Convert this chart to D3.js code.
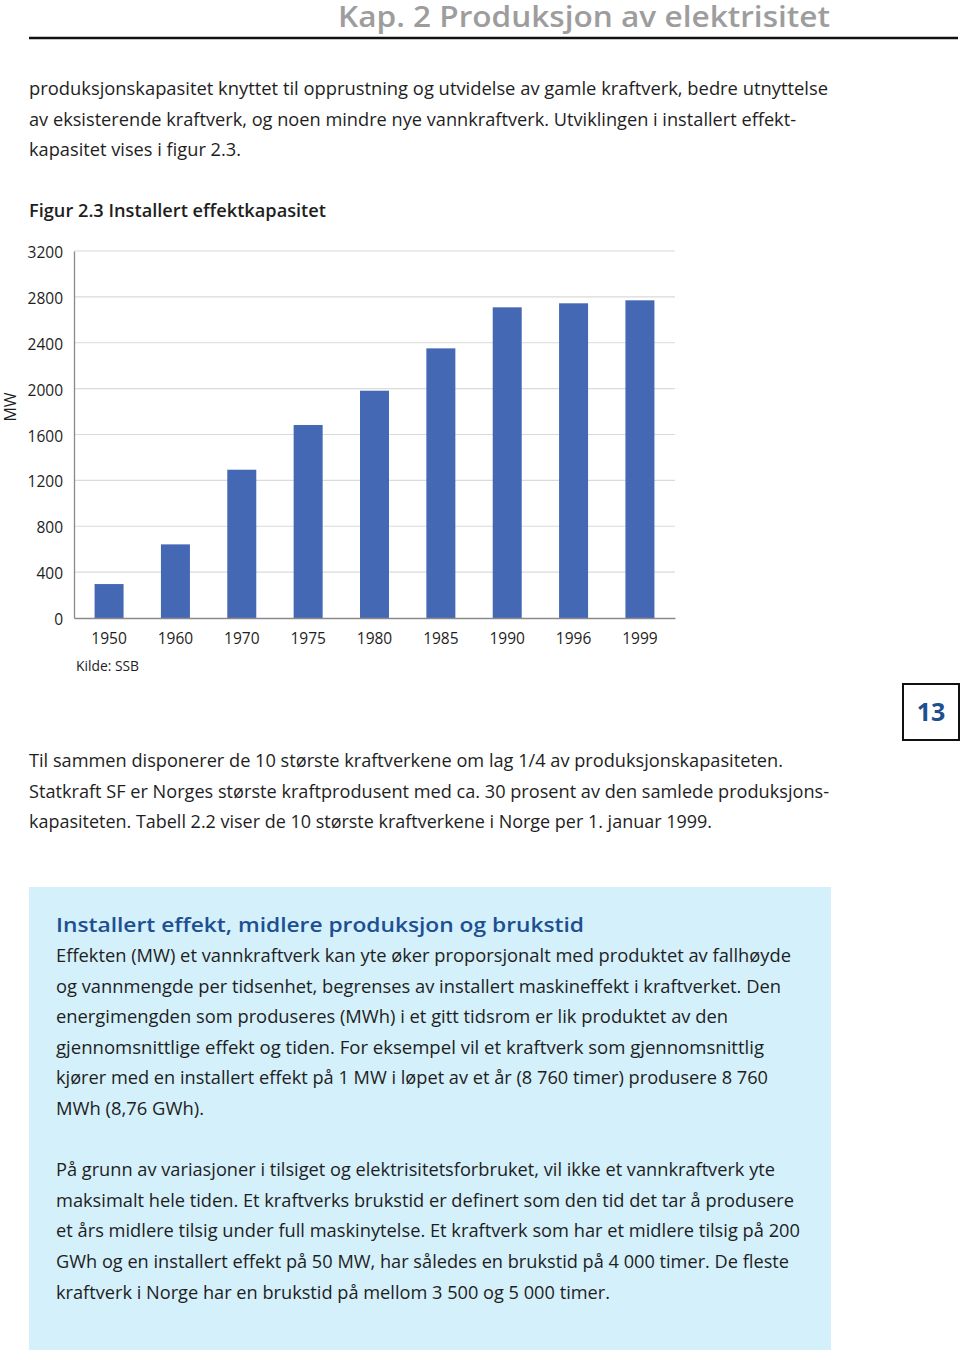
<!DOCTYPE html>
<html>
<head>
<meta charset="utf-8">
<script src="https://cdn.jsdelivr.net/npm/d3@7"></script>
<style>
  html, body { margin: 0; padding: 0; background: #fff; }
  svg { display: block; }
</style>
</head>
<body>
<svg id="page" width="960" height="1351"></svg>
<script>
// ---- data ----
const years = ["1950", "1960", "1970", "1975", "1980", "1985", "1990", "1996", "1999"];
const capacityMW = [296, 642, 1293, 1683, 1982, 2351, 2709, 2744, 2770];
const yTicks = [0, 400, 800, 1200, 1600, 2000, 2400, 2800, 3200];

const headerText = "Kap. 2 Produksjon av elektrisitet";
const introLines = [
  "produksjonskapasitet knyttet til opprustning og utvidelse av gamle kraftverk, bedre utnyttelse",
  "av eksisterende kraftverk, og noen mindre nye vannkraftverk. Utviklingen i installert effekt-",
  "kapasitet vises i figur 2.3."
];
const introWidths = [799, 767, 212];
const figTitle = "Figur 2.3 Installert effektkapasitet";
const sourceText = "Kilde: SSB";
const yLabel = "MW";
const afterLines = [
  "Til sammen disponerer de 10 største kraftverkene om lag 1/4 av produksjonskapasiteten.",
  "Statkraft SF er Norges største kraftprodusent med ca. 30 prosent av den samlede produksjons-",
  "kapasiteten. Tabell 2.2 viser de 10 største kraftverkene i Norge per 1. januar 1999."
];
const afterWidths = [754, 800, 683];
const boxTitle = "Installert effekt, midlere produksjon og brukstid";
const boxLines = [
  "Effekten (MW) et vannkraftverk kan yte øker proporsjonalt med produktet av fallhøyde",
  "og vannmengde per tidsenhet, begrenses av installert maskineffekt i kraftverket.  Den",
  "energimengden som produseres (MWh) i et gitt tidsrom er lik produktet av den",
  "gjennomsnittlige effekt og tiden.  For eksempel vil et kraftverk som gjennomsnittlig",
  "kjører med en installert effekt på 1 MW i løpet av et år (8 760 timer) produsere 8 760",
  "MWh (8,76 GWh).",
  "",
  "På grunn av variasjoner i tilsiget og elektrisitetsforbruket, vil ikke et vannkraftverk yte",
  "maksimalt hele tiden.  Et kraftverks brukstid er definert som den tid det tar å produsere",
  "et års midlere tilsig under full maskinytelse.  Et kraftverk som har et midlere tilsig på 200",
  "GWh og en installert effekt på 50 MW, har således en brukstid på 4 000 timer.  De fleste",
  "kraftverk i Norge har en brukstid på mellom 3 500 og 5 000 timer."
];
const boxWidths = [735, 725, 672, 708, 712, 148, 0, 719, 738, 744, 733, 554];
const pageNumber = "13";

// ---- drawing ----
const svg = d3.select("#page");
const FONT = "'Open Sans', 'Noto Sans', sans-serif";
const TXT = "#1e1e1e";

// header
svg.append("text")
  .attr("x", 830).attr("y", 27)
  .attr("text-anchor", "end")
  .attr("font-family", FONT).attr("font-weight", 600)
  .attr("font-size", 28).attr("fill", "#9d9d9d")
  .attr("textLength", 492).attr("lengthAdjust", "spacingAndGlyphs")
  .text(headerText);
svg.append("line")
  .attr("x1", 29).attr("x2", 958).attr("y1", 38).attr("y2", 38)
  .attr("stroke", "#111").attr("stroke-width", 2.5);

function lines(arr, widths, x, y0, dy, size, fill, weight) {
  arr.forEach((t, i) => {
    if (!t) return;
    svg.append("text")
      .attr("x", x).attr("y", y0 + i * dy)
      .attr("font-family", FONT).attr("font-size", size)
      .attr("font-weight", weight || 400)
      .attr("fill", fill)
      .attr("textLength", widths[i]).attr("lengthAdjust", "spacingAndGlyphs")
      .text(t);
  });
}

lines(introLines, introWidths, 29, 95, 30.5, 18.5, TXT);

svg.append("text")
  .attr("x", 29).attr("y", 217)
  .attr("font-family", FONT).attr("font-size", 18.5).attr("font-weight", 600)
  .attr("fill", TXT)
  .attr("textLength", 297).attr("lengthAdjust", "spacingAndGlyphs")
  .text(figTitle);

// chart
const x = d3.scaleBand().domain(years).range([74, 675]).paddingInner(0.563).paddingOuter(0.31);
const y = d3.scaleLinear().domain([0, 3200]).range([618, 251]);

const chart = svg.append("g");
chart.append("g")
  .selectAll("line").data(yTicks.filter(d => d > 0)).join("line")
  .attr("x1", 74).attr("x2", 675)
  .attr("y1", d => y(d)).attr("y2", d => y(d))
  .attr("stroke", "#dadada").attr("stroke-width", 1.2);

chart.append("g")
  .selectAll("rect").data(years).join("rect")
  .attr("x", d => x(d))
  .attr("width", x.bandwidth())
  .attr("y", (d, i) => y(capacityMW[i]))
  .attr("height", (d, i) => y(0) - y(capacityMW[i]))
  .attr("fill", "#4468b4");

const yAxis = chart.append("g").attr("transform", "translate(74,0)")
  .call(d3.axisLeft(y).tickValues(yTicks).tickSize(0).tickPadding(11).tickFormat(d3.format("d")));
yAxis.select(".domain").attr("stroke", "#8a8a8a").attr("stroke-width", 1.3);
yAxis.selectAll("text").attr("font-family", FONT).attr("font-size", 15.5).attr("fill", TXT).attr("dy", "0.42em");

const xAxis = chart.append("g").attr("transform", "translate(0,618)")
  .call(d3.axisBottom(x).tickSize(0).tickPadding(15));
xAxis.select(".domain").attr("stroke", "#8a8a8a").attr("stroke-width", 1.3);
xAxis.selectAll("text").attr("font-family", FONT).attr("font-size", 15.5).attr("fill", TXT);

svg.append("text")
  .attr("transform", "translate(16,407) rotate(-90)")
  .attr("text-anchor", "middle")
  .attr("font-family", FONT).attr("font-size", 16).attr("fill", TXT)
  .text(yLabel);

svg.append("text")
  .attr("x", 76).attr("y", 671)
  .attr("font-family", FONT).attr("font-size", 14.5).attr("fill", TXT)
  .attr("textLength", 63).attr("lengthAdjust", "spacingAndGlyphs")
  .text(sourceText);

// page number box
svg.append("rect")
  .attr("x", 903).attr("y", 684).attr("width", 56).attr("height", 56)
  .attr("fill", "none").attr("stroke", "#111").attr("stroke-width", 2);
svg.append("text")
  .attr("x", 931).attr("y", 721)
  .attr("text-anchor", "middle")
  .attr("font-family", FONT).attr("font-weight", 700).attr("font-size", 25)
  .attr("fill", "#1d4f91")
  .text(pageNumber);

lines(afterLines, afterWidths, 29, 767, 30.5, 18.5, TXT);

// info box
svg.append("rect")
  .attr("x", 29).attr("y", 887).attr("width", 802).attr("height", 463)
  .attr("fill", "#d4f0fb");
svg.append("text")
  .attr("x", 56).attr("y", 932)
  .attr("font-family", FONT).attr("font-weight", 600).attr("font-size", 20)
  .attr("fill", "#1d4f91")
  .attr("textLength", 528).attr("lengthAdjust", "spacingAndGlyphs")
  .text(boxTitle);

lines(boxLines, boxWidths, 56, 962, 30.6, 18.5, TXT);
</script>
</body>
</html>
